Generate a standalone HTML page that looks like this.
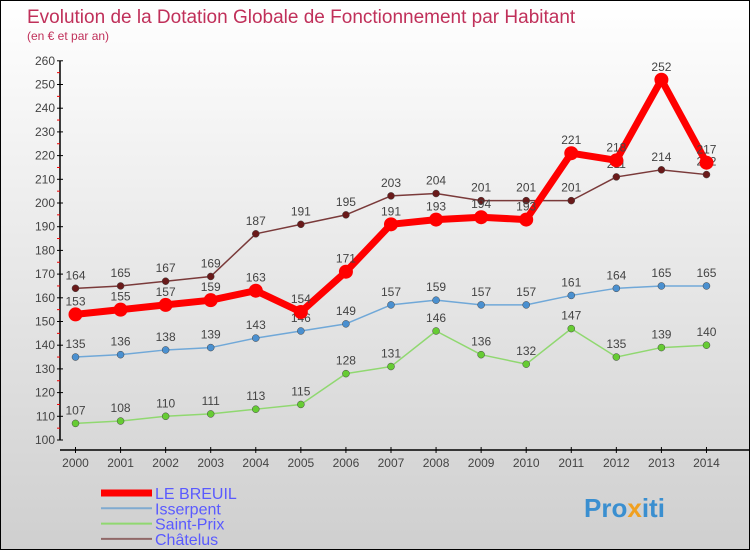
<!DOCTYPE html>
<html><head><meta charset="utf-8"><style>
html,body{margin:0;padding:0}
body{width:750px;height:550px;overflow:hidden;font-family:"Liberation Sans",sans-serif}
#wrap{position:absolute;left:0;top:0;width:748px;height:548px;border:1px solid #000;background:linear-gradient(#ffffff,#cfcfcf)}
</style></head><body>
<div id="wrap">
<svg id="chart" width="748" height="548" xmlns="http://www.w3.org/2000/svg">
<text x="26" y="22" font-size="19" fill="#c0305a">Evolution de la Dotation Globale de Fonctionnement par Habitant</text>
<text x="26" y="39" font-size="12" fill="#c0305a">(en € et par an)</text>
<g id="axes"></g><g id="series"></g><g id="legend"></g>
<text x="583" y="516" font-size="26" font-weight="bold" fill="#3a8fd0">Pro<tspan fill="#f0a020">x</tspan>iti</text>
</svg></div>
<script>
const years=[2000,2001,2002,2003,2004,2005,2006,2007,2008,2009,2010,2011,2012,2013,2014];
const yTicks=[100,110,120,130,140,150,160,170,180,190,200,210,220,230,240,250,260];
const breuil=[153,155,157,159,163,154,171,191,193,194,193,221,218,252,217];
const isserpent=[135,136,138,139,143,146,149,157,159,157,157,161,164,165,165];
const saintPrix=[107,108,110,111,113,115,128,131,146,136,132,147,135,139,140];
const chatelus=[164,165,167,169,187,191,195,203,204,201,201,201,211,214,212];
const NS="http://www.w3.org/2000/svg";
function X(i){return 74.5+i*45.07;}
function Y(v){return 439-(v-100)*2.37;}
function mk(t,a,p){const e=document.createElementNS(NS,t);for(const k in a)e.setAttribute(k,a[k]);p.appendChild(e);return e;}
const ax=document.getElementById('axes');
let l=mk('line',{x1:59,y1:Y(260),x2:59,y2:Y(100),stroke:'#000','stroke-width':1.5},ax);


yTicks.forEach(v=>{
 mk('line',{x1:56,y1:Y(v),x2:62,y2:Y(v),stroke:'#000'},ax);
 if(v<260)mk('line',{x1:56,y1:Y(v+5),x2:59,y2:Y(v+5),stroke:'#e00'},ax);
 const t=mk('text',{x:54,y:Y(v)+4,'font-size':12,fill:'#444','text-anchor':'end'},ax);t.textContent=v;
 
 
});
l=mk('line',{x1:59,y1:449,x2:748,y2:449,stroke:'#000','stroke-width':1.5},ax);


years.forEach((y,i)=>{
 mk('line',{x1:X(i),y1:446,x2:X(i),y2:452},ax);
 ax.lastChild.setAttribute('stroke','#000');
 const t=mk('text',{x:X(i),y:466,'font-size':12,fill:'#444','text-anchor':'middle'},ax);t.textContent=y;
 
 
});
const sg=document.getElementById('series');
function draw(d,name,col,w,r,dot){
 const g=mk('g',{},sg);
 
 
 mk('polyline',{points:d.map((v,i)=>X(i)+','+Y(v)).join(' '),fill:'none',stroke:col,'stroke-width':w,'stroke-linejoin':'round'},g);
 d.forEach((v,i)=>{
  const c=mk('circle',{cx:X(i),cy:Y(v),r:r,fill:dot,stroke:w>3?'none':'#444','stroke-width':0.5},g);
  
  
  const t=mk('text',{x:X(i),y:Y(v)-9,'font-size':12,fill:'#444','text-anchor':'middle'},g);t.textContent=v;
  
  
 });
}
draw(saintPrix,'saint-prix','#90d870',1.5,3.5,'#66cc33');
draw(isserpent,'isserpent','#70a8d8',1.5,3.5,'#4a90d0');
draw(chatelus,'chatelus','#7a3a3a',1.5,3.5,'#6a1a1a');
draw(breuil,'le-breuil','#f00',7,7,'#f00');
const lg=document.getElementById('legend');
const leg=[['LE BREUIL','#f00',7],['Isserpent','#80aad0',2],['Saint-Prix','#90d870',2],['Châtelus','#906868',2]];
leg.forEach((e,i)=>{
 const y=492+i*15.3;
 const g=mk('g',{},lg);
 
 
 mk('line',{x1:100,y1:y,x2:151,y2:y,stroke:e[1],'stroke-width':e[2]},g);
 const t=mk('text',{x:154,y:y+6,'font-size':16,fill:'#5a5aff'},g);t.textContent=e[0];
});
</script>
</body></html>
